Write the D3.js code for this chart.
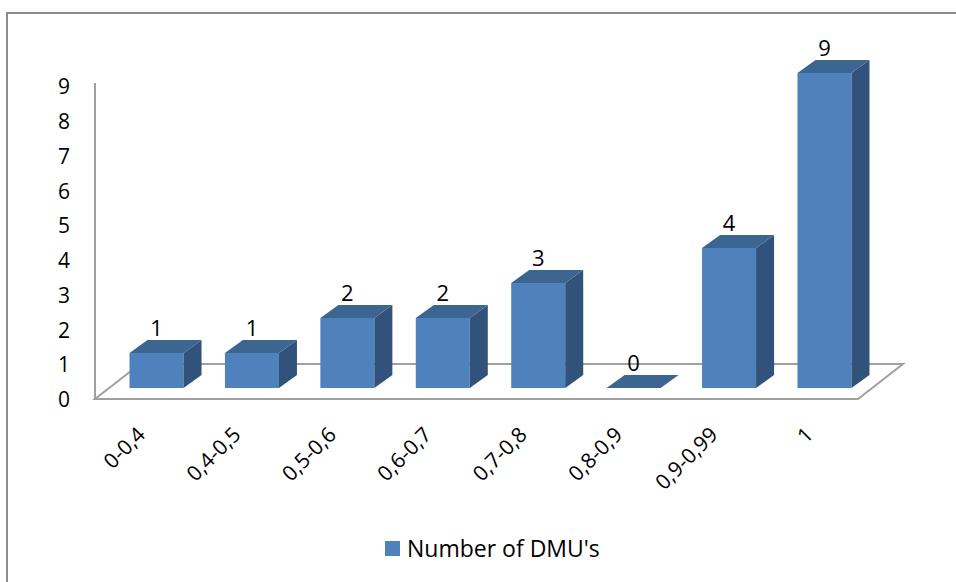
<!DOCTYPE html>
<html>
<head>
<meta charset="utf-8">
<script src="https://cdn.jsdelivr.net/npm/d3@7"></script>
<style>
  body { margin: 0; background: #fff; }
  text { font-family: "Open Sans", "Noto Sans", sans-serif; fill: #000; }
</style>
</head>
<body>
<div id="chart"></div>
<script>
// data
const categories = ["0-0,4", "0,4-0,5", "0,5-0,6", "0,6-0,7", "0,7-0,8", "0,8-0,9", "0,9-0,99", "1"];
const counts = [1, 1, 2, 2, 3, 0, 4, 9];
const yTicks = [0, 1, 2, 3, 4, 5, 6, 7, 8, 9];
const seriesName = "Number of DMU's";

const W = 956, H = 582;
const floor = { left: 95, right: 858, front: 399, dx: 45, dy: -35 };
const barShift = { dx: 14, dy: -11 };   // bars stand a bit behind the floor's front edge
const depth = { dx: 18, dy: -13 };      // bar depth

const colFront = "#4F81BD", colTop = "#3C6591", colSide = "#31527A";

const svg = d3.select("#chart").append("svg")
  .attr("width", W)
  .attr("height", H);

// outer frame
svg.append("rect")
  .attr("x", 7).attr("y", 13)
  .attr("width", W + 20).attr("height", H + 20)
  .attr("fill", "#fff")
  .attr("stroke", "#8c8c8c")
  .attr("stroke-width", 2);

const x = d3.scaleBand()
  .domain(categories)
  .range([floor.left, floor.right])
  .paddingInner(0.434)
  .paddingOuter(0.215);

const y = d3.scaleLinear()
  .domain([0, 9])
  .range([floor.front + barShift.dy, floor.front + barShift.dy - 315]);

// axis labels sit slightly lower than the bars' front plane
const yLab = d3.scaleLinear()
  .domain([0, 9])
  .range([400, 87]);

// floor
const fl = [
  [floor.left, floor.front],
  [floor.right, floor.front],
  [floor.right + floor.dx, floor.front + floor.dy],
  [floor.left + floor.dx, floor.front + floor.dy]
];
svg.append("path")
  .attr("d", d3.line()(fl) + "Z")
  .attr("fill", "#fff")
  .attr("stroke", "#a0a0a0")
  .attr("stroke-width", 2)
  .attr("stroke-linejoin", "miter");

// wall line
svg.append("line")
  .attr("x1", floor.left).attr("x2", floor.left)
  .attr("y1", floor.front).attr("y2", 83)
  .attr("stroke", "#a0a0a0")
  .attr("stroke-width", 2);

// y axis labels
svg.append("g")
  .attr("transform", "translate(" + floor.left + ",0)")
  .call(d3.axisLeft(yLab).tickValues(yTicks).tickSize(0).tickPadding(25).tickFormat(d3.format("d")))
  .call(g => g.select(".domain").remove())
  .selectAll("text")
  .attr("font-size", 21)
  .attr("font-family", "Open Sans, sans-serif")
  .attr("fill", "#000");

// bars
const bars = svg.selectAll(".bar")
  .data(categories.map((c, i) => ({ cat: c, value: counts[i] })))
  .enter().append("g")
  .attr("class", "bar");

bars.each(function(d) {
  const g = d3.select(this);
  const x0 = x(d.cat) + barShift.dx;
  const x1 = x0 + x.bandwidth();
  const yb = y(0), yt = y(d.value);
  const line = d3.line();
  if (d.value > 0) {
    g.append("path")
      .attr("d", line([[x0, yb], [x1, yb], [x1, yt], [x0, yt]]) + "Z")
      .attr("fill", colFront);
    g.append("path")
      .attr("d", line([[x1, yb], [x1 + depth.dx, yb + depth.dy], [x1 + depth.dx, yt + depth.dy], [x1, yt]]) + "Z")
      .attr("fill", colSide);
  }
  g.append("path")
    .attr("d", line([[x0, yt], [x1, yt], [x1 + depth.dx, yt + depth.dy], [x0 + depth.dx, yt + depth.dy]]) + "Z")
    .attr("fill", colTop);

  // value label
  g.append("text")
    .attr("x", (x0 + x1) / 2)
    .attr("y", yt + depth.dy - 4)
    .attr("text-anchor", "middle")
    .attr("font-size", 22)
    .text(d.value);
});

// category labels
svg.selectAll(".xlab")
  .data(categories)
  .enter().append("text")
  .attr("class", "xlab")
  .attr("text-anchor", "end")
  .attr("font-size", 21)
  .attr("transform", d => "translate(" + (x(d) + barShift.dx + x.bandwidth() / 2 - 10) + ",436) rotate(-45)")
  .text(d => d);

// legend
const legend = svg.append("g").attr("transform", "translate(385,541)");
legend.append("rect")
  .attr("width", 15).attr("height", 15)
  .attr("fill", colFront);
legend.append("text")
  .attr("x", 22).attr("y", 16)
  .attr("font-size", 23)
  .text(seriesName);
</script>
</body>
</html>
